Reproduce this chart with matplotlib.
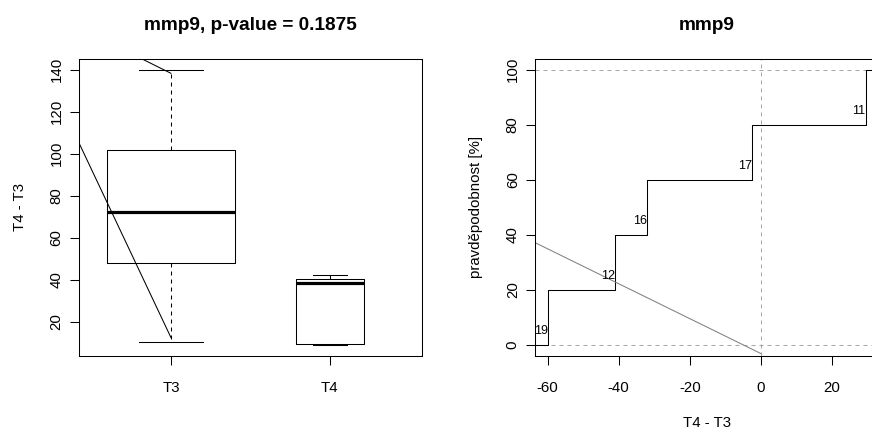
import numpy as np
import matplotlib
matplotlib.use("Agg")
import matplotlib.pyplot as plt

plt.rcParams['font.family'] = ['Liberation Sans', 'DejaVu Sans']
plt.rcParams['axes.unicode_minus'] = False

# ---- data -------------------------------------------------------------
groups = ["T3", "T4"]
box_whislo = [10.4, 8.9]
box_q1 = [48.0, 9.6]
box_med = [72.0, 38.3]
box_q3 = [102.0, 40.2]
box_whishi = [140.0, 42.0]
box_widths = [0.804, 0.43]

# two reference lines drawn over the boxplot
line_a_x = [0.0, 1.0]
line_a_y = [172.7, 12.5]
line_b_x = [0.0, 1.0]
line_b_y = [175.9, 138.3]

# empirical distribution of the paired differences
diff_ids = ["19", "12", "16", "17", "11"]
diff_values = [-60.0, -41.0, -32.0, -2.5, 29.5]
levels = [0, 20, 40, 60, 80, 100]

trend_x = [-63.6, 0.0]
trend_y = [37.2, -3.1]

left_title = "mmp9, p-value = 0.1875"
right_title = "mmp9"
ylabel_left = "T4 - T3"
ylabel_right = "pravděpodobnost [%]"
xlabel_right = "T4 - T3"

# ---- figure -----------------------------------------------------------
W, H = 872, 432
fig = plt.figure(figsize=(W / 100, H / 100), dpi=100)

LW = 0.75
DASH = (0, (3.84, 3.84))
TICK_FS = 10.8
TITLE_FS = 13.7


def frame(ax):
    for s in ax.spines.values():
        s.set_linewidth(LW)
        s.set_color("black")
    ax.tick_params(length=6.5, width=LW, labelsize=TICK_FS, color="black")
    ax.tick_params(axis="x", pad=11.8)
    ax.tick_params(axis="y", pad=4.4, labelrotation=90)


def rpad(lo, hi):
    d = 0.04 * (hi - lo)
    return lo - d, hi + d


# left: boxplot
ax1 = fig.add_axes([78.7 / W, (H - 356) / H, 343.3 / W, 297.3 / H])
stats = [dict(whislo=a, q1=b, med=c, q3=d, whishi=e, label=g)
         for a, b, c, d, e, g in zip(box_whislo, box_q1, box_med, box_q3,
                                     box_whishi, groups)]
ax1.bxp(stats, positions=[1, 2], widths=box_widths,
        capwidths=[w / 2 for w in box_widths], showfliers=False,
        boxprops=dict(color="black", linewidth=LW),
        whiskerprops=dict(color="black", linewidth=LW, linestyle=DASH),
        capprops=dict(color="black", linewidth=LW),
        medianprops=dict(color="black", linewidth=2.3, solid_capstyle="butt"))
ax1.plot(line_a_x, line_a_y, color="black", lw=LW)
ax1.plot(line_b_x, line_b_y, color="black", lw=LW)
ax1.set_xlim(*rpad(0.5, 2.5))
ax1.set_ylim(*rpad(min(box_whislo), max(box_whishi)))
ax1.set_yticks([20, 40, 60, 80, 100, 120, 140])
frame(ax1)
for lbl in ax1.get_yticklabels():
    lbl.set_va("center")
ax1.set_ylabel(ylabel_left, fontsize=TICK_FS, va="baseline")
ax1.yaxis.set_label_coords(-54.6 / 343.3, 0.5)
ax1.set_title(left_title, fontsize=TITLE_FS, fontweight="bold", pad=20.5)

# right: step function of the differences
ax2 = fig.add_axes([535 / W, (H - 356) / H, 343.3 / W, 297.3 / H])
xlo, xhi = rpad(min(diff_values), max(diff_values))
ax2.axhline(levels[0], color="#a8a8a8", lw=LW, linestyle=DASH)
ax2.axhline(levels[-1], color="#a8a8a8", lw=LW, linestyle=DASH)
ax2.axvline(0, color="#a8a8a8", lw=LW, linestyle=DASH)
step_x = [xlo] + diff_values + [xhi]
step_y = levels + levels[-1:]
ax2.step(step_x, step_y, where="post", color="black", lw=LW)
ax2.plot(trend_x, trend_y, color="#808080", lw=LW)
for x, lev, name in zip(diff_values, levels[:-1], diff_ids):
    ax2.text(x, lev + 5, name, ha="right", va="center", fontsize=9)
ax2.set_xlim(xlo, xhi)
ax2.set_ylim(*rpad(0, 100))
ax2.set_xticks([-60, -40, -20, 0, 20])
ax2.set_yticks([0, 20, 40, 60, 80, 100])
frame(ax2)
for lbl in ax2.get_yticklabels():
    lbl.set_va("center")
ax2.set_ylabel(ylabel_right, fontsize=TICK_FS, va="baseline")
ax2.yaxis.set_label_coords(-54.6 / 343.3, 0.5)
ax2.set_xlabel(xlabel_right, fontsize=TICK_FS, va="baseline")
ax2.xaxis.set_label_coords(0.5, (356 - 426.7) / 297.3)
ax2.set_title(right_title, fontsize=TITLE_FS, fontweight="bold", pad=20.5)

fig.savefig("out.png", dpi=100)
